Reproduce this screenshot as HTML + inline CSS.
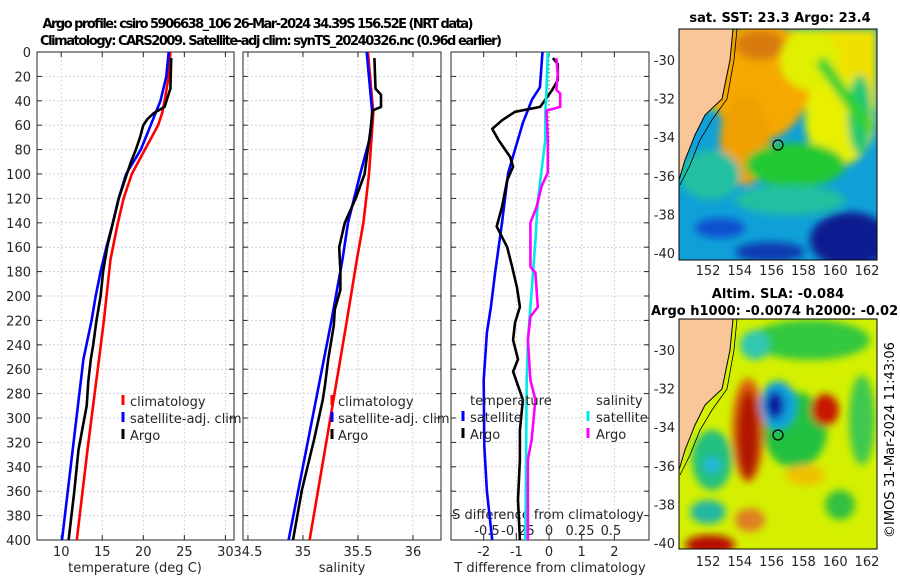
<!DOCTYPE html>
<html><head><meta charset="utf-8"><style>
body{margin:0;background:#fff;}
svg{display:block;font-family:"DejaVu Sans","Liberation Sans",sans-serif;}
</style></head><body>
<svg id="fig" width="900" height="580" viewBox="0 0 900 580" xmlns="http://www.w3.org/2000/svg">
<defs>
<filter id="bl" x="-20%" y="-20%" width="140%" height="140%"><feGaussianBlur stdDeviation="4"/></filter>
<clipPath id="c1"><rect x="679" y="29" width="198" height="231"/></clipPath>
<clipPath id="c2"><rect x="679" y="319" width="198" height="230"/></clipPath>
</defs>
<text x="258" y="28" font-size="13" font-weight="bold" text-anchor="middle" textLength="431">Argo profile: csiro 5906638_106 26-Mar-2024 34.39S 156.52E (NRT data)</text>
<text x="271" y="45" font-size="13" font-weight="bold" text-anchor="middle" textLength="462">Climatology: CARS2009. Satellite-adj clim: synTS_20240326.nc (0.96d earlier)</text>
<g id="plots"></g>
<g id="maps">
 <!-- SST map -->
 <g clip-path="url(#c1)">
  <rect x="679" y="29" width="198" height="231" fill="#10a0d8"/>
  <g filter="url(#bl)">
   <rect x="679" y="29" width="198" height="80" fill="#f0e000"/>
   <ellipse cx="760" cy="80" rx="50" ry="60" fill="#f5a800"/>
   <ellipse cx="745" cy="140" rx="25" ry="45" fill="#f0a000"/>
   <ellipse cx="760" cy="45" rx="25" ry="15" fill="#d87a10"/>
   <ellipse cx="840" cy="120" rx="35" ry="45" fill="#e8f000"/>
   <ellipse cx="810" cy="60" rx="30" ry="30" fill="#e0f000"/>
   <ellipse cx="795" cy="165" rx="50" ry="22" fill="#20c830"/>
   <ellipse cx="860" cy="115" rx="12" ry="40" fill="#20c870"/>
   <path d="M820 60 L870 130" stroke="#30d030" stroke-width="12"/>
   <ellipse cx="710" cy="175" rx="30" ry="25" fill="#20c0a0"/>
   <ellipse cx="790" cy="200" rx="55" ry="15" fill="#20c0a0"/>
   <ellipse cx="850" cy="240" rx="40" ry="28" fill="#081a90"/>
   <ellipse cx="770" cy="252" rx="35" ry="10" fill="#0a3ab0"/>
   <ellipse cx="720" cy="228" rx="25" ry="10" fill="#1050d0"/>
  </g>
 </g>
 <polygon points="679,29 733,29 730,60 722,99 705,115 695,135 685,160 679,180" fill="#f9c69a"/>
 <polyline points="737,29 734,60 727,99 712,120 700,140 690,165 680,185" fill="none" stroke="#000" stroke-width="0.8"/>
 <polyline points="733,29 730,60 722,99 705,115 695,135 685,160 679,180" fill="none" stroke="#000" stroke-width="1"/>
 <circle cx="778" cy="145" r="5" fill="none" stroke="#000" stroke-width="1.2"/>
 <rect x="679" y="29" width="198" height="231" fill="none" stroke="#000" stroke-width="1"/>
 <!-- SLA map -->
 <g clip-path="url(#c2)">
  <rect x="679" y="319" width="198" height="230" fill="#d4f000"/>
  <g filter="url(#bl)">
   <ellipse cx="810" cy="340" rx="60" ry="20" fill="#30c840"/>
   <ellipse cx="755" cy="345" rx="15" ry="15" fill="#30c8b0"/>
   <ellipse cx="795" cy="430" rx="32" ry="38" fill="#20c040"/>
   <ellipse cx="748" cy="430" rx="16" ry="52" fill="#e06010"/>
   <ellipse cx="748" cy="435" rx="11" ry="45" fill="#b01800"/>
   <ellipse cx="778" cy="405" rx="18" ry="24" fill="#10a0e0"/>
   <ellipse cx="775" cy="405" rx="9" ry="14" fill="#0818a0"/>
   <ellipse cx="825" cy="410" rx="14" ry="16" fill="#c81800"/>
   <ellipse cx="862" cy="420" rx="13" ry="45" fill="#40c850"/>
   <ellipse cx="712" cy="460" rx="20" ry="30" fill="#20c080"/>
   <ellipse cx="712" cy="465" rx="8" ry="8" fill="#20b8e0"/>
   <ellipse cx="708" cy="512" rx="18" ry="12" fill="#20b8a0"/>
   <ellipse cx="710" cy="545" rx="25" ry="10" fill="#b81000"/>
   <ellipse cx="750" cy="520" rx="15" ry="12" fill="#e08020"/>
   <ellipse cx="840" cy="505" rx="15" ry="15" fill="#30c040"/>
   <ellipse cx="805" cy="475" rx="20" ry="10" fill="#f0c000"/>
  </g>
 </g>
 <polygon points="679,319 733,319 730,350 722,389 705,405 695,425 685,450 679,470" fill="#f9c69a"/>
 <polyline points="737,319 734,350 727,389 712,410 700,430 690,455 680,475" fill="none" stroke="#000" stroke-width="0.8"/>
 <polyline points="733,319 730,350 722,389 705,405 695,425 685,450 679,470" fill="none" stroke="#000" stroke-width="1"/>
 <circle cx="778" cy="435" r="5" fill="none" stroke="#000" stroke-width="1.2"/>
 <rect x="679" y="319" width="198" height="230" fill="none" stroke="#000" stroke-width="1"/>
 <text x="780" y="22" font-size="13" font-weight="bold" text-anchor="middle">sat. SST: 23.3 Argo: 23.4</text>
 <text x="778" y="298" font-size="13" font-weight="bold" text-anchor="middle">Altim. SLA: -0.084</text>
 <text x="651" y="315" font-size="13" font-weight="bold">Argo h1000: -0.0074 h2000: -0.02</text>
 <text transform="translate(894,440) rotate(-90)" font-size="13" text-anchor="middle">©IMOS 31-Mar-2024 11:43:06</text>
</g>
</svg>
<script>
// ---- data ----
var depthTicks=[0,20,40,60,80,100,120,140,160,180,200,220,240,260,280,300,320,340,360,380,400];
var tempTicks=[10,15,20,25,30];
var salTicks=[34.5,35,35.5,36];
var tdiffTicks=[-2,-1,0,1,2];
var sdiffTicks=[-0.5,-0.25,0,0.25,0.5];
var sdiffTickLabels=["-0.5","-0.25","0","0.25","0.5"];
var latTicks=[-30,-32,-34,-36,-38,-40];
var lonTicks=[152,154,156,158,160,162];

var tClimD=[0,20,40,50,60,80,100,120,140,170,220,252,326,400];
var tClimV=[23.3,23.1,22.6,22.3,21.8,20.2,18.6,17.6,16.9,16.0,15.2,14.6,13.2,11.9];
var tSatD=[0,20,40,60,80,100,120,140,160,180,200,220,252,326,400];
var tSatV=[23.1,22.8,22.1,20.9,19.7,17.9,17.0,16.3,15.5,14.8,14.2,13.7,12.7,11.4,10.1];
var tArgoD=[5,30,45,50,55,60,70,80,90,100,120,140,160,180,200,220,240,252,270,290,326,360,400];
var tArgoV=[23.4,23.3,22.6,21.3,20.5,20.0,19.6,19.1,18.5,18.0,17.0,16.3,15.6,15.1,14.8,14.3,13.9,13.6,13.3,13.1,12.1,11.6,10.9];

var sClimD=[0,50,100,140,170,220,300,400];
var sClimV=[35.59,35.64,35.6,35.55,35.49,35.40,35.25,35.06];
var sSatD=[0,50,70,100,140,170,220,400];
var sSatV=[35.58,35.63,35.61,35.52,35.41,35.36,35.26,34.87];
var sArgoD=[5,30,35,45,48,60,100,120,140,160,180,195,211,224,252,273,285,318,359,400];
var sArgoV=[35.65,35.66,35.71,35.71,35.63,35.62,35.56,35.48,35.38,35.33,35.34,35.34,35.29,35.28,35.23,35.20,35.18,35.10,34.99,34.91];

var dtSatD=[0,29,39,58,80,99,140,181,209,230,269,323,360,400];
var dtSatV=[-0.2,-0.28,-0.52,-0.8,-1.04,-1.25,-1.44,-1.65,-1.78,-1.9,-2.0,-1.98,-1.9,-1.74];
var dtArgoD=[5,10,23,31,45,49,56,63,72,86,94,105,127,143,160,176,193,209,222,236,252,262,285,310,334,367,400];
var dtArgoV=[0.12,0.27,0.27,0.1,-0.27,-1.04,-1.44,-1.74,-1.55,-1.19,-1.1,-1.28,-1.44,-1.6,-1.28,-1.13,-0.98,-0.89,-1.04,-1.1,-0.95,-1.1,-0.8,-0.89,-0.89,-0.95,-0.89];
var dsSatD=[0,31,50,72,122,155,236,269,400];
var dsSatV=[-0.01,-0.02,-0.03,-0.03,-0.09,-0.11,-0.17,-0.18,-0.19];
var dsArgoD=[5,18,31,34,45,48,72,99,110,127,140,176,181,209,217,236,269,285,318,334,400];
var dsArgoV=[0.06,0.07,0.06,0.09,0.09,-0.02,-0.01,-0.01,-0.06,-0.1,-0.15,-0.15,-0.11,-0.09,-0.15,-0.17,-0.15,-0.11,-0.14,-0.17,-0.17];

// ---- layout ----
var NS="http://www.w3.org/2000/svg";
var root=document.getElementById('plots');
var Y0=52,Y1=540;
function yD(d){return Y0+d*(Y1-Y0)/400;}
function mk(tag,at,parent){var e=document.createElementNS(NS,tag);for(var k in at)e.setAttribute(k,at[k]);(parent||root).appendChild(e);return e;}
function txt(x,y,s,anchor,size,parent){var t=mk('text',{x:x,y:y,'font-size':size||13,'text-anchor':anchor||'middle',fill:'#262626'},parent);t.textContent=s;return t;}

var panels=[
 {x0:37,x1:234,lo:7.05,hi:31.05,ticks:tempTicks,name:'temperature'},
 {x0:243,x1:441,lo:34.455,hi:36.255,ticks:salTicks,name:'salinity'},
 {x0:451,x1:649,lo:-3.0,hi:3.06,ticks:tdiffTicks,name:'tdiff'}
];
function xScale(p){return function(v){return p.x0+(v-p.lo)*(p.x1-p.x0)/(p.hi-p.lo);};}
var sX=function(v){return 549+v*124;};

panels.forEach(function(p,i){
 var g=mk('g',{});
 
 
 var xs=xScale(p);
 depthTicks.forEach(function(d){
  if(d>0&&d<400){mk('line',{x1:p.x0,x2:p.x1,y1:yD(d),y2:yD(d),stroke:'#c4c8e8','stroke-width':0.8,'stroke-dasharray':'2,2'},g);}
  mk('line',{x1:p.x0,x2:p.x0+5,y1:yD(d),y2:yD(d),stroke:'#262626','stroke-width':1},g);
  mk('line',{x1:p.x1-5,x2:p.x1,y1:yD(d),y2:yD(d),stroke:'#262626','stroke-width':1},g);
 });
 p.ticks.forEach(function(v){
  var x=xs(v);
  if(!(i==2&&v==0)) mk('line',{x1:x,x2:x,y1:Y0,y2:Y1,stroke:'#e0c8c8','stroke-width':0.8,'stroke-dasharray':'2,2'},g);
  mk('line',{x1:x,x2:x,y1:Y0,y2:Y0+5,stroke:'#262626'},g);
  mk('line',{x1:x,x2:x,y1:Y1-5,y2:Y1,stroke:'#262626'},g);
  var t=txt(x,556,String(v),'middle',13,g);
  
  
 });
 mk('rect',{x:p.x0,y:Y0,width:p.x1-p.x0,height:Y1-Y0,fill:'none',stroke:'#262626','stroke-width':1},g);
});
var z=mk('line',{x1:549,x2:549,y1:Y0,y2:Y1,stroke:'#4a6a30','stroke-width':1,'stroke-dasharray':'1.5,2.5'});



depthTicks.forEach(function(d){
 var t=txt(31,yD(d)+5,String(d),'end',13);
 
 
});
var xl1=txt(135,572,'temperature (deg C)');


var xl2=txt(342,572,'salinity');


var xl3=txt(550,572,'T difference from climatology');


var xl4=txt(548,519,'S difference from climatology');


sdiffTicks.forEach(function(v,i){
 var t=txt(sX(v),535,sdiffTickLabels[i]);
 
 
});

function line(D,V,xf,color,name){
 var pts=D.map(function(d,i){return xf(V[i]).toFixed(1)+','+yD(d).toFixed(1);}).join(' ');
 var l=mk('polyline',{points:pts,fill:'none',stroke:color,'stroke-width':2.6,'stroke-linejoin':'round'});
 
 
}
var xT=xScale(panels[0]),xS=xScale(panels[1]),xD=xScale(panels[2]);
line(tClimD,tClimV,xT,'#ff0000','temp-climatology-line');
line(tSatD,tSatV,xT,'#0000ff','temp-satellite-line');
line(tArgoD,tArgoV,xT,'#000000','temp-argo-line');
line(sClimD,sClimV,xS,'#ff0000','sal-climatology-line');
line(sSatD,sSatV,xS,'#0000ff','sal-satellite-line');
line(sArgoD,sArgoV,xS,'#000000','sal-argo-line');
line(dtSatD,dtSatV,xD,'#0000ff','tdiff-satellite-line');
line(dtArgoD,dtArgoV,xD,'#000000','tdiff-argo-line');
line(dsSatD,dsSatV,sX,'#00e8e8','sdiff-satellite-line');
line(dsArgoD,dsArgoV,sX,'#ff00ff','sdiff-argo-line');

function leg(mx,tx,y,color,label,name){
 var g=mk('g',{});
 
 
 if(color) mk('line',{x1:mx,x2:mx,y1:y-11,y2:y-1,stroke:color,'stroke-width':3},g);
 txt(tx,y,label,'start',13,g);
}
[[123,130,'climatology','#ff0000'],[123,130,'satellite-adj. clim','#0000ff'],[123,130,'Argo','#000']].forEach(function(e,i){leg(e[0],e[1],406+i*17,e[3],e[2],'legend-entry');});
[[332,338,'climatology','#ff0000'],[332,338,'satellite-adj. clim','#0000ff'],[332,338,'Argo','#000']].forEach(function(e,i){leg(e[0],e[1],406+i*17,e[3],e[2],'legend-entry');});
leg(0,470,405,null,'temperature','legend-header');
leg(463,470,422,'#0000ff','satellite','legend-entry');
leg(463,470,439,'#000','Argo','legend-entry');
leg(0,596,405,null,'salinity','legend-header');
leg(588,596,422,'#00e8e8','satellite','legend-entry');
leg(588,596,439,'#ff00ff','Argo','legend-entry');

[[60,253,29,260,275],[350,543,319,549,566]].forEach(function(m){
 latTicks.forEach(function(la){
  var y=m[0]+(la+30)/(-10)*(m[1]-m[0]);
  mk('line',{x1:877,x2:873,y1:y,y2:y,stroke:'#262626'});
  mk('line',{x1:679,x2:683,y1:y,y2:y,stroke:'#262626'});
  var t=txt(675,y+5,String(la),'end',13);
  
  
 });
 lonTicks.forEach(function(lo){
  var x=708+(lo-152)*15.9;
  mk('line',{x1:x,x2:x,y1:m[3],y2:m[3]-4,stroke:'#262626'});
  var t=txt(x,m[4],String(lo),'middle',13);
  
  
 });
});
</script>
</body></html>
